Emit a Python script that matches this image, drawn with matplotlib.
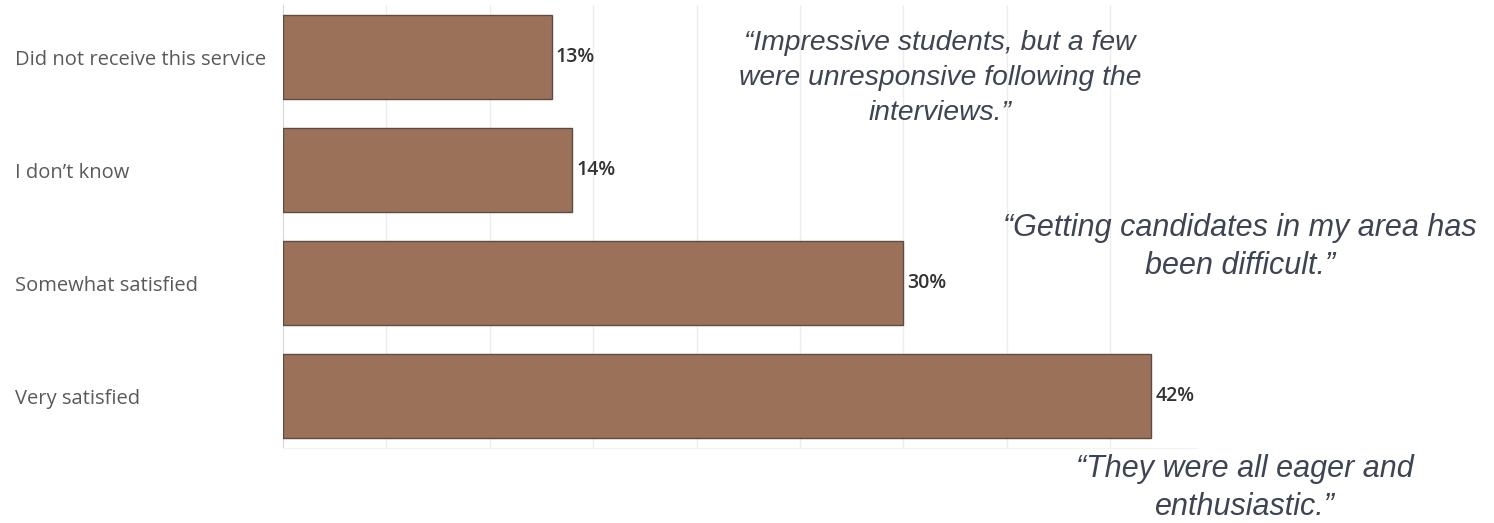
import matplotlib
matplotlib.use("Agg")
import matplotlib.pyplot as plt

# survey responses, top to bottom
categories = ["Did not receive this service", "I don\u2019t know",
              "Somewhat satisfied", "Very satisfied"]
shares = [13, 14, 30, 42]

quotes = [
    "\u201cImpressive students, but a few\nwere unresponsive following the\ninterviews.\u201d",
    "\u201cGetting candidates in my area has\nbeen difficult.\u201d",
    "\u201cThey were all eager and\nenthusiastic.\u201d",
]

BAR = "#9b7259"
EDGE = "#5e4c42"
LABEL = "#5a5a5a"
VALUE = "#333333"
QUOTE = "#3e4552"

fig = plt.figure(figsize=(14.94, 5.23), dpi=100)
ax = fig.add_axes([0.1894, 0.1434, 0.6118, 0.847])

ypos = list(range(len(categories)))
ax.barh(ypos, shares, height=0.75, color=BAR, edgecolor=EDGE, linewidth=1.0, zorder=3)

for y, v in zip(ypos, shares):
    ax.annotate(f"{v}%", xy=(v, y), xytext=(4, 0), textcoords="offset pixels",
                ha="left", va="center", fontsize=14, fontweight="semibold",
                family=["Open Sans", "DejaVu Sans"], color=VALUE)

ax.set_xlim(0, 44.2)
ax.set_ylim(len(categories) - 0.54, -0.46)

ax.set_xticks(range(5, 45, 5))
ax.tick_params(axis="x", length=0, labelbottom=False)
ax.grid(axis="x", color="#ededed", linewidth=1.0, zorder=0)

ax.set_yticks(ypos)
ax.set_yticklabels(categories, fontsize=14.5, color=LABEL, family=["Open Sans", "DejaVu Sans"])
ax.tick_params(axis="y", length=0, pad=193)
for lbl in ax.get_yticklabels():
    lbl.set_horizontalalignment("left")

for side in ["top", "right"]:
    ax.spines[side].set_visible(False)
ax.spines["left"].set_color("#d6d6d6")
ax.spines["bottom"].set_color("#f2f2f2")

# free-text comments from respondents
qstyle = dict(ha="center", va="center", style="italic",
              family=["Liberation Sans", "DejaVu Sans"], color=QUOTE)
fig.text(940 / 1494, 1 - 78 / 523, quotes[0], fontsize=20.3, linespacing=1.45, **qstyle)
fig.text(1240 / 1494, 1 - 247 / 523, quotes[1], fontsize=22, linespacing=1.36, **qstyle)
fig.text(1245 / 1494, 1 - 488 / 523, quotes[2], fontsize=22, linespacing=1.36, **qstyle)

fig.savefig("out.png", dpi=100)
